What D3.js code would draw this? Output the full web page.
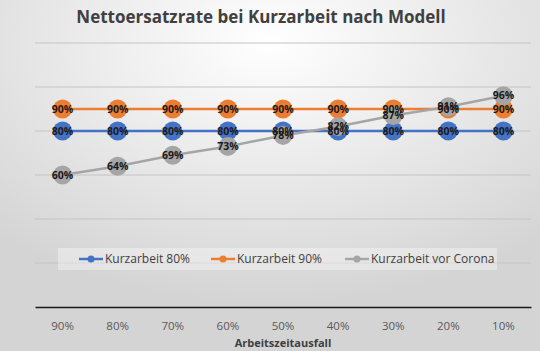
<!DOCTYPE html>
<html>
<head>
<meta charset="utf-8">
<script src="https://cdn.jsdelivr.net/npm/d3@7"></script>
<style>
  body { margin: 0; }
  svg { display: block; font-family: "Open Sans", Lato, sans-serif; }
</style>
</head>
<body>
<svg id="chart" width="540" height="351"></svg>
<script>
// categories (Arbeitszeitausfall)
const categories = ['90%', '80%', '70%', '60%', '50%', '40%', '30%', '20%', '10%'];

// series values in percent
const kurz80 = [80, 80, 80, 80, 80, 80, 80, 80, 80];
const kurz90 = [90, 90, 90, 90, 90, 90, 90, 90, 90];
const vorCorona = [60, 64, 69, 73, 78, 82, 87, 91, 96];

const seriesNames = ['Kurzarbeit 80%', 'Kurzarbeit 90%', 'Kurzarbeit vor Corona'];
const seriesColors = ['#4472C4', '#ED7D31', '#A5A5A5'];
const yTicks = [0, 20, 40, 60, 80, 100, 120];

const W = 540, H = 351;
const margin = { top: 43, right: 9, bottom: 44, left: 35 };

const svg = d3.select('#chart');

// background gradient
const defs = svg.append('defs');
const grad = defs.append('radialGradient')
  .attr('id', 'bg')
  .attr('cx', '50%').attr('cy', '12%').attr('r', '75%');
grad.append('stop').attr('offset', '0%').attr('stop-color', '#ffffff');
grad.append('stop').attr('offset', '100%').attr('stop-color', '#d4d4d4');

svg.append('rect')
  .attr('width', W).attr('height', H)
  .attr('fill', 'url(#bg)');

const x = d3.scaleBand()
  .domain(categories)
  .range([margin.left, W - margin.right]);

const y = d3.scaleLinear()
  .domain([0, 120])
  .range([H - margin.bottom, margin.top]);

// gridlines
svg.append('g')
  .selectAll('line')
  .data(yTicks.filter(d => d > 0))
  .join('line')
  .attr('x1', margin.left)
  .attr('x2', W - margin.right)
  .attr('y1', d => y(d))
  .attr('y2', d => y(d))
  .attr('stroke', '#c4c4c4')
  .attr('stroke-width', 1);

// x axis
const xAxis = svg.append('g')
  .attr('transform', `translate(0,${y(0)})`)
  .call(d3.axisBottom(x).tickSize(0).tickPadding(15));
xAxis.select('.domain').attr('stroke', '#1a1a1a').attr('stroke-width', 1.6);
xAxis.selectAll('text')
  .attr('fill', '#595959')
  .attr('font-size', '11.5px')
  .attr('font-family', '"Open Sans", sans-serif');

// axis title
svg.append('text')
  .attr('x', (margin.left + W - margin.right) / 2)
  .attr('y', 347)
  .attr('text-anchor', 'middle')
  .attr('font-size', '11px')
  .attr('font-weight', 'bold')
  .attr('fill', '#404040')
  .text('Arbeitszeitausfall');

// title
svg.append('text')
  .attr('x', 261)
  .attr('y', 23)
  .attr('text-anchor', 'middle')
  .attr('font-size', '17px')
  .attr('font-weight', 'bold')
  .attr('fill', '#404040')
  .text('Nettoersatzrate bei Kurzarbeit nach Modell');

const allSeries = [kurz80, kurz90, vorCorona];
const cx = c => x(c) + x.bandwidth() / 2;

const line = d3.line()
  .x((d, i) => cx(categories[i]))
  .y(d => y(d));

// legend box
const legend = svg.append('g');
legend.append('rect')
  .attr('x', 58).attr('y', 248)
  .attr('width', 439).attr('height', 22)
  .attr('fill', '#ffffff').attr('opacity', 0.35);

const legendX = [79, 211, 345];
seriesNames.forEach((name, i) => {
  const g = legend.append('g').attr('transform', `translate(${legendX[i]},259)`);
  g.append('line')
    .attr('x1', 0).attr('x2', 24)
    .attr('stroke', seriesColors[i]).attr('stroke-width', 2.5);
  g.append('circle')
    .attr('cx', 12).attr('r', 3.5)
    .attr('fill', seriesColors[i]);
  g.append('text')
    .attr('x', 26).attr('dy', '0.35em')
    .attr('font-size', '12px')
    .attr('fill', '#404040')
    .text(name);
});

// series lines and markers
allSeries.forEach((vals, s) => {
  const g = svg.append('g');
  g.append('path')
    .datum(vals)
    .attr('d', line)
    .attr('fill', 'none')
    .attr('stroke', seriesColors[s])
    .attr('stroke-width', 2.5);
  g.selectAll('circle')
    .data(vals)
    .join('circle')
    .attr('cx', (d, i) => cx(categories[i]))
    .attr('cy', d => y(d))
    .attr('r', 9.5)
    .attr('fill', seriesColors[s]);
});

// data labels
allSeries.forEach((vals, s) => {
  svg.append('g')
    .selectAll('text')
    .data(vals)
    .join('text')
    .attr('x', (d, i) => cx(categories[i]))
    .attr('y', d => y(d))
    .attr('dy', '0.35em')
    .attr('text-anchor', 'middle')
    .attr('font-size', '10.5px')
    .attr('font-weight', 'bold')
    .attr('fill', '#1a1a1a')
    .text(d => d + '%');
});
</script>
</body>
</html>
